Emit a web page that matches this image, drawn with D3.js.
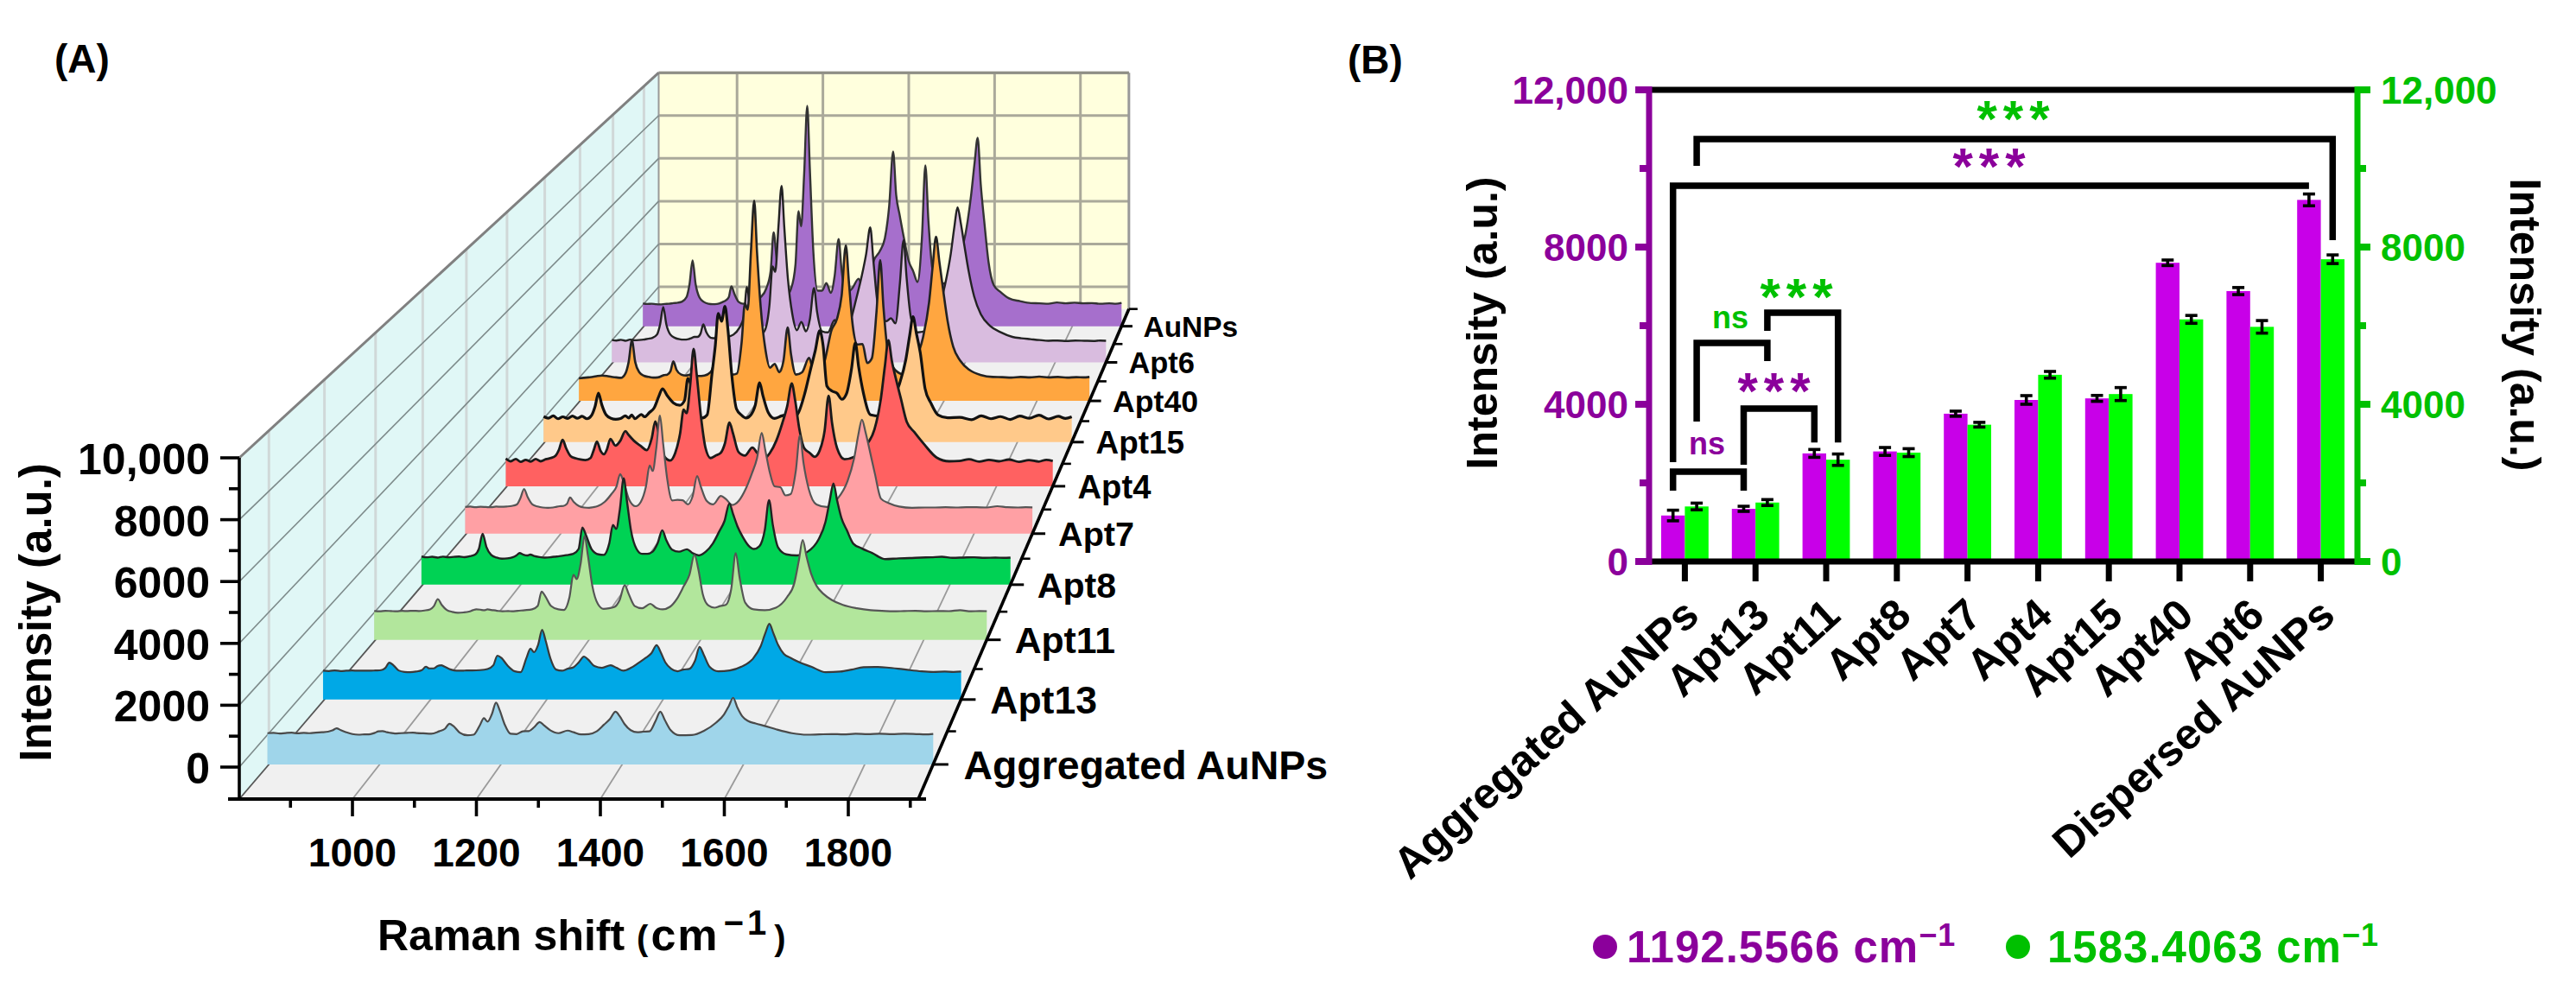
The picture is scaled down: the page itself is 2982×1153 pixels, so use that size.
<!DOCTYPE html>
<html>
<head>
<meta charset="utf-8">
<script src="https://cdn.jsdelivr.net/npm/d3@7"></script>
<style>
  html, body { margin: 0; padding: 0; background: #fff; }
  svg { display: block; }
  text { font-family: "Liberation Sans", Arial, sans-serif; font-weight: bold; }
</style>
</head>
<body>
<div id="chart"></div>
<script>
// ---------- data: panel A, Raman spectra ----------
const ramanShift = [
  815, 825, 835, 845, 855, 865, 875, 885, 895, 905, 915, 922, 929, 936, 945, 955, 965, 975,
  985, 992, 998, 1005, 1012, 1018, 1025, 1035, 1045, 1055, 1062, 1072, 1085, 1098,
  1108, 1115, 1122, 1132, 1145, 1155,
  1165, 1172, 1178, 1185, 1192, 1198, 1206, 1216, 1226,
  1236, 1246, 1255, 1264, 1271, 1282, 1295, 1310, 1320, 1332,
  1345, 1358, 1370, 1380, 1389, 1396, 1404, 1414, 1425, 1435, 1445,
  1455, 1463, 1470, 1480, 1495,
  1515, 1535, 1555, 1568, 1576, 1583, 1590, 1598, 1608, 1620, 1635, 1655, 1680, 1705,
  1725, 1745, 1765, 1785, 1805, 1825, 1845, 1865, 1885, 1900, 1913
];
const spectrumAggregated = [
  0, 10, -10, 5, 15, -5, 10, 0, 20, 30, 50, 90, 160, 100, 30, -30, -50, -40,
  -30, 10, 60, 70, 30, 10, -10, 0, 10, 20, 5, -5, -20, 60,
  150, 310, 230, 20, -70, -50,
  250, 495, 380, 620, 1010, 760, 300, -20, -30,
  60, 70, 200, 370, 260, 90, 0, 85, 30, -40,
  -30, 60, 280, 470, 710, 560, 300, 100, 30, 50, 60,
  400, 710, 450, 100, -70,
  -60, 80, 350, 620, 900, 1170, 850, 560, 400, 320, 240, 120, 0, -50,
  -40, -30, -40, -20, -30, -20, -35, -20, -30, -40, -25
];
const spectrumApt13 = [
  -40, -50, -30, -50, -40, -30, -40, -40, -40, -30, -20, 50, 240, 150, -30, -80, -90, -70,
  -20, 100, 40, 40, 120, 150, 90, 0, -40, -40, -30, -30, -20, 20,
  150, 480, 400, 150, -60, -90,
  400, 720, 600, 850, 1370, 1000, 400, 0, -40,
  30, 80, 250, 450, 350, 120, 60, 150, 60, -40,
  60, 230, 400, 560, 840, 600, 250, 30, -60, 0, 20,
  300, 780, 520, 100, -60,
  -30, 100, 380, 800, 1250, 1580, 1250, 850, 540, 400, 250, 100, -90, -70,
  0, 80, 90, 70, 30, -20, -60, -80, -70, -80, -70
];
const spectrumApt11 = [
  0, -10, 10, 0, -10, 5, 0, 10, 0, 20, 60, 180, 430, 220, 40, -30, -60, -50,
  -20, 30, 60, 50, 30, 60, 40, 10, -10, 0, -10, 10, 30, 60,
  180, 700, 520, 180, 60, 40,
  500, 1300, 1150, 1700, 2700, 2000, 900, 250, 80,
  100, 150, 400, 930, 620, 180, 100, 260, 120, 60,
  150, 450, 900, 1300, 2020, 1500, 600, 200, 120, 180, 220,
  800, 2080, 1200, 300, 60,
  30, 120, 500, 1000, 1800, 2550, 1950, 1350, 900, 620, 400, 220, 100, 30,
  10, -10, 0, 10, -10, 0, -5, 30, -10, 0, -5
];
const spectrumApt8 = [
  20, -10, 10, -20, 15, -10, 5, 20, -5, 30, 90, 300, 870, 380, 80, -20, -60, -50,
  -10, 60, 150, 90, 60, 90, 40, 0, -20, -10, 10, 30, 70, 120,
  300, 1100, 800, 300, 100, 80,
  500, 1200, 1050, 1800, 2945, 2100, 950, 300, 120,
  120, 200, 500, 1000, 650, 280, 200, 290, 150, 60,
  200, 500, 950, 1350, 2000, 1600, 1150, 750, 420, 300, 400,
  1000, 2130, 1200, 350, 100,
  60, 200, 650, 1300, 2100, 2750, 2100, 1450, 1000, 500, 330, 150, -80, -50,
  -40, -20, -10, 10, -30, -20, -10, -30, -20, -30, -20
];
const spectrumApt7 = [
  0, 15, -10, 10, 0, -10, 15, 10, 20, 40, 100, 350, 700, 380, 100, 20, -20, -30,
  -20, 10, 30, 40, 120, 370, 200, 40, -20, -30, -10, 40, 200, 500,
  800, 1275, 950, 300, 30, 200,
  800, 1610, 1400, 2300, 3550, 2500, 1100, 250, 280,
  260, 100, 400, 1200, 800, 250, 100, 430, 300, 80,
  250, 700, 1300, 1900, 2880, 2200, 1400, 800, 770, 450, 500,
  1400, 2780, 1700, 700, 100,
  0, 300, 1000, 1900, 2800, 3390, 2900, 2200, 1300, 320, 150, 20, -30, -20,
  -20, -10, -20, -5, -10, -20, 30, -10, -20, -10, -15
];
const spectrumApt4 = [
  80, -30, 60, -50, 30, -40, 60, -30, 50, 100, 200, 450, 836, 500, 180, 90, 40, 20,
  100, 450, 766, 400, 250, 450, 870, 600, 800, 1180, 1020, 800, 600, 420,
  900, 1570, 1100, 200, 0, 300,
  1100, 2050, 1900, 3000, 4490, 3500, 1900, 500, 100,
  200, 300, 700, 1530, 1100, 350, 200, 520, 300, 60,
  300, 800, 1500, 2200, 3100, 2400, 1300, 500, 310, 150, 400,
  1200, 2610, 1500, 500, 50,
  150, 550, 1250, 2500, 3800, 4840, 4000, 3300, 2500, 1550, 1150, 650, 120, -30,
  -20, 50, -40, 30, -30, 40, -50, 20, -40, 30, -20
];
const spectrumApt15 = [
  30, -40, 60, -60, 20, -50, 50, -40, 40, -60, 90, 450, 1010, 520, 100, -40, -80, -50,
  60, -30, 100, -60, 40, 120, 20, 200, 400, 900, 1190, 900, 600, 500,
  700, 1620, 1300, 400, -30, 100,
  1800, 3000, 4330, 4000, 4620, 3700, 1800, 350, 100,
  -30, 100, 500, 1440, 900, 200, -50, 60, 100, -50,
  200, 1000, 2000, 2800, 3610, 3000, 1300, 1100, 1000, 750, 1000,
  2000, 3100, 2100, 1000, 100,
  50, 500, 1400, 2400, 3400, 4190, 3500, 2700, 1200, 600, 100, -20, 0, -100,
  60, -60, 30, -90, 50, -40, 90, -70, 40, -50, 20
];
const spectrumApt40 = [
  -60, -40, -20, 0, 40, 60, 40, 0, -20, -40, 150, 650, 1570, 650, 200, 50, 0, -30,
  -20, 30, 80, 100, 250, 670, 300, 100, 60, 100, 60, 40, 60, 200,
  900, 2690, 1300, 400, 100, 150,
  1500, 3170, 2900, 5400, 7600, 5400, 3000, 1200, 400,
  560, 200, 700, 2130, 1000, 100, 200, 820, 200, 50,
  800, 2000, 2500, 3500, 5670, 4000, 2200, 1400, 1420, 600, 800,
  2800, 5040, 3000, 1000, 300,
  100, 600, 1700, 3200, 4800, 6040, 5000, 3800, 2400, 1300, 700, 300, 80, 0,
  -10, -30, 0, -20, 10, -20, 0, -30, -10, -20, 0
];
const spectrumApt6 = [
  -40, -60, -30, -70, -20, -50, -40, -20, 20, 60, 200, 650, 1430, 650, 200, 60, 0, -20,
  0, 50, 100, 100, 250, 656, 300, 60, 40, 100, 80, 100, 200, 500,
  1000, 2320, 1400, 500, 200, 400,
  1500, 3240, 3000, 5000, 6830, 5000, 2700, 1100, 400,
  770, 350, 900, 2280, 1200, 350, 300, 850, 300, 200,
  800, 1800, 2800, 3800, 4980, 3500, 1800, 1000, 800, 930, 700,
  2500, 4400, 2700, 900, 300,
  400, 1000, 2400, 3800, 5000, 5870, 5200, 4200, 3000, 1900, 1100, 600, 300, 100,
  40, 0, -40, -70, -60, -80, -60, -70, -80, -60, -70
];
const spectrumAuNPs = [
  10, -10, 0, -20, -30, -10, 0, 30, 50, 100, 300, 900, 1988, 900, 280, 80, 0, -20,
  -10, 30, 80, 150, 300, 800, 450, 80, 0, 40, 100, 150, 300, 700,
  1500, 3280, 2000, 1000, 400, 700,
  1800, 4254, 3560, 6000, 9105, 6200, 2400, 600, 600,
  950, 500, 1300, 2980, 1500, 500, 700, 1150, 700, 1000,
  2000, 2400, 3000, 4500, 7000, 5000, 4080, 3000, 1950, 1500, 1000,
  3000, 6360, 3800, 1500, 900,
  1000, 1800, 3200, 5000, 6500, 7634, 5500, 3800, 1900, 850, 550, 250, 120, 30,
  20, 0, 60, 20, 50, 20, 30, 0, 20, 0, 40
];
// front to back
const spectraNames = ["Aggregated AuNPs", "Apt13", "Apt11", "Apt8", "Apt7", "Apt4", "Apt15", "Apt40", "Apt6", "AuNPs"];
const spectra = [spectrumAggregated, spectrumApt13, spectrumApt11, spectrumApt8, spectrumApt7,
  spectrumApt4, spectrumApt15, spectrumApt40, spectrumApt6, spectrumAuNPs];
const shiftTicks = [1000, 1200, 1400, 1600, 1800];
const shiftMinorTicks = [900, 1100, 1300, 1500, 1700, 1900];
const intensityTicksA = [0, 2000, 4000, 6000, 8000, 10000];
const intensityMinorA = [1000, 3000, 5000, 7000, 9000];

// ---------- data: panel B, bars with error bars ----------
const groups = ["Aggregated AuNPs", "Apt13", "Apt11", "Apt8", "Apt7", "Apt4", "Apt15", "Apt40", "Apt6", "Dispersed AuNPs"];
const band1192 = [1170, 1340, 2750, 2800, 3760, 4110, 4150, 7600, 6880, 9200];
const band1583 = [1400, 1500, 2590, 2770, 3480, 4750, 4260, 6160, 5970, 7690];
const err1192 = [135, 65, 100, 100, 65, 110, 75, 70, 90, 150];
const err1583 = [85, 75, 145, 100, 60, 85, 165, 100, 160, 110];
const intensityTicksB = [0, 4000, 8000, 12000];
const intensityMinorB = [2000, 6000, 10000];
// from/to: [group index, 0 = 1192 bar, 1 = 1583 bar], levels in intensity units
const brackets = [
  { from: [0, 0], to: [1, 0], level: 2285, fromEnd: 1800, toEnd: 1800 },
  { from: [1, 0], to: [2, 0], level: 3890, fromEnd: 2460, toEnd: 3030 },
  { from: [0, 1], to: [1, 1], level: 5560, fromEnd: 3560, toEnd: 5100 },
  { from: [1, 1], to: [2, 1], level: 6330, fromEnd: 5870, toEnd: 3030 },
  { from: [0, 0], to: [9, 0], level: 9560, fromEnd: 2530, toEnd: 9560 },
  { from: [0, 1], to: [9, 1], level: 10750, fromEnd: 10065, toEnd: 8175 }
];

// ---------- styles ----------
const spectraFill = ["#9fd5ea", "#00a8e6", "#b2e69c", "#00d254", "#ffa0a4", "#ff6161", "#ffc98a", "#ffa640", "#d9bcdf", "#a66fcc"];
const spectraStroke = ["#4a4a4a", "#3a3a3a", "#555", "#222", "#555", "#1a1a1a", "#111", "#222", "#222", "#333"];
const spectraWidth = [2.2, 2.2, 2.2, 2.4, 2.2, 2.8, 3.2, 2.6, 2.4, 2.4];
const purpleAxis = "#8b009b", greenAxis = "#00c000", purpleBar = "#c800e8", greenBar = "#00ff00", black = "#000";

const svg = d3.select("#chart").append("svg").attr("width", 2982).attr("height", 1153);
svg.append("rect").attr("width", 2982).attr("height", 1153).attr("fill", "#fff");

// ---------- panel A ----------
const panelA = svg.append("g");
const xFront = d3.scaleLinear().domain([1000, 1800]).range([408, 982]);
const yFront = d3.scaleLinear().domain([0, 10000]).range([888, 530]);
const shiftMin = xFront.invert(277), shiftMax = xFront.invert(1063), floorValue = yFront.invert(925);
const topValue = 10000;
const vanish = { x: 1856, y: -920 };
const depthOf = i => i + 0.5;
const perspective = z => 1 / (1 + 0.0444 * z);
const px = (cm, z) => vanish.x + (xFront(cm) - vanish.x) * perspective(z);
const py = (v, z) => vanish.y + (yFront(v) - vanish.y) * perspective(z);
const poly = pts => "M" + pts.map(p => p.join(",")).join("L") + "Z";
const seg = (g, a, b, color, width) => g.append("line")
  .attr("x1", a[0]).attr("y1", a[1]).attr("x2", b[0]).attr("y2", b[1])
  .attr("stroke", color).attr("stroke-width", width);

// walls and floor
panelA.append("path").attr("fill", "#ffffdd").attr("d", poly([
  [px(shiftMin, 10), py(topValue, 10)], [px(shiftMax, 10), py(topValue, 10)],
  [px(shiftMax, 10), py(floorValue, 10)], [px(shiftMin, 10), py(floorValue, 10)]]));
panelA.append("path").attr("fill", "#e0f7f6").attr("d", poly([
  [px(shiftMin, 0), py(floorValue, 0)], [px(shiftMin, 0), py(topValue, 0)],
  [px(shiftMin, 10), py(topValue, 10)], [px(shiftMin, 10), py(floorValue, 10)]]));
panelA.append("path").attr("fill", "#f0f0f0").attr("d", poly([
  [px(shiftMin, 0), py(floorValue, 0)], [px(shiftMax, 0), py(floorValue, 0)],
  [px(shiftMax, 10), py(floorValue, 10)], [px(shiftMin, 10), py(floorValue, 10)]]));

// grid on the back wall
shiftTicks.forEach(t => seg(panelA, [px(t, 10), py(topValue, 10)], [px(t, 10), py(floorValue, 10)], "#aaa99a", 3));
intensityTicksA.forEach(t => seg(panelA, [px(shiftMin, 10), py(t, 10)], [px(shiftMax, 10), py(t, 10)], "#aaa99a", 3));
seg(panelA, [px(shiftMax, 10), py(topValue, 10)], [px(shiftMax, 10), py(floorValue, 10)], "#999", 3);
seg(panelA, [px(shiftMin, 10), py(topValue, 10)], [px(shiftMax, 10), py(topValue, 10)], "#8e8e85", 3);
seg(panelA, [px(shiftMin, 10), py(topValue, 10)], [px(shiftMin, 10), py(floorValue, 10)], "#999", 2);

// grid on the left wall
d3.range(10).forEach(i => seg(panelA,
  [px(shiftMin, depthOf(i)), py(topValue, depthOf(i))],
  [px(shiftMin, depthOf(i)), py(floorValue, depthOf(i))], "#d0d8d8", 3));
intensityTicksA.slice(0, -1).forEach(t => seg(panelA, [px(shiftMin, 0), py(t, 0)], [px(shiftMin, 10), py(t, 10)], "#7d8a8a", 1.6));
seg(panelA, [px(shiftMin, 0), py(topValue, 0)], [px(shiftMin, 10), py(topValue, 10)], "#808080", 3);
seg(panelA, [px(shiftMin, 0), py(floorValue, 0)], [px(shiftMin, 10), py(floorValue, 10)], "#555", 1.8);

// grid on the floor
shiftTicks.forEach(t => seg(panelA, [px(t, 0), py(floorValue, 0)], [px(t, 10), py(floorValue, 10)], "#9a9a9a", 1.8));

// spectra, back row first
d3.range(9, -1, -1).forEach(i => {
  const z = depthOf(i);
  const points = ramanShift.map((cm, k) => [cm, spectra[i][k]]);
  const area = d3.area().curve(d3.curveMonotoneX)
    .x(d => px(d[0], z)).y0(py(floorValue, z)).y1(d => py(d[1], z));
  const line = d3.line().curve(d3.curveMonotoneX)
    .x(d => px(d[0], z)).y(d => py(d[1], z));
  panelA.append("path").datum(points).attr("d", area).attr("fill", spectraFill[i]);
  panelA.append("path").datum(points).attr("d", line).attr("fill", "none")
    .attr("stroke", spectraStroke[i]).attr("stroke-width", spectraWidth[i]).attr("stroke-linejoin", "round");
});

// axes of panel A
seg(panelA, [px(shiftMin, 0), py(floorValue, 0)], [px(shiftMin, 0), py(topValue, 0)], black, 3.6);
seg(panelA, [264, py(floorValue, 0)], [1072, py(floorValue, 0)], black, 4);
seg(panelA, [px(shiftMax, 0), py(floorValue, 0)], [px(shiftMax, 10), py(floorValue, 10)], black, 3.6);
intensityTicksA.forEach(t => {
  seg(panelA, [255, py(t, 0)], [277, py(t, 0)], black, 3.6);
  panelA.append("text").attr("x", 243).attr("y", py(t, 0) + 19).attr("text-anchor", "end")
    .attr("font-size", 50).attr("fill", black).text(t === 10000 ? "10,000" : d3.format("d")(t));
});
intensityMinorA.forEach(t => seg(panelA, [265, py(t, 0)], [277, py(t, 0)], black, 3.6));
shiftTicks.forEach(t => {
  seg(panelA, [xFront(t), py(floorValue, 0)], [xFront(t), 945], black, 3.6);
  panelA.append("text").attr("x", xFront(t)).attr("y", 1003).attr("text-anchor", "middle")
    .attr("font-size", 46).attr("fill", black).text(t);
});
shiftMinorTicks.forEach(t => seg(panelA, [xFront(t), py(floorValue, 0)], [xFront(t), 935], black, 3.6));
d3.range(10).forEach(i => {
  const z = depthOf(i), s = perspective(z), x0 = px(shiftMax, z), y0 = py(floorValue, z);
  seg(panelA, [x0, y0], [x0 + 18 * s, y0], black, 3);
  panelA.append("text").attr("x", x0 + 36 * s).attr("y", y0 + 17 * s).attr("font-size", 47.5 * s)
    .attr("fill", black).text(spectraNames[i]);
});
d3.range(1, 11).forEach(z => {
  const x0 = px(shiftMax, z), y0 = py(floorValue, z);
  seg(panelA, [x0, y0], [x0 + 10, y0], black, 2.6);
});

panelA.append("text").attr("transform", "translate(59,709) rotate(-90)").attr("text-anchor", "middle")
  .attr("font-size", 51).attr("fill", black).text("Intensity (a.u.)");
const ramanTitle = panelA.append("text").attr("x", 437).attr("y", 1100).attr("font-size", 50).attr("fill", black);
ramanTitle.append("tspan").text("Raman shift ");
ramanTitle.append("tspan").attr("font-size", 40).text("(");
ramanTitle.append("tspan").attr("font-size", 52).attr("dx", 3).attr("letter-spacing", 2).text("cm");
ramanTitle.append("tspan").attr("font-size", 40).attr("dy", -18).attr("dx", 5).attr("letter-spacing", 4).text("\u22121");
ramanTitle.append("tspan").attr("font-size", 40).attr("dy", 18).attr("dx", 5).text(")");
panelA.append("text").attr("x", 63).attr("y", 84).attr("font-size", 46).attr("fill", black).text("(A)");

// ---------- panel B ----------
const panelB = svg.append("g");
const yLeft = d3.scaleLinear().domain([0, 12000]).range([650, 104]);
const yRight = d3.scaleLinear().domain([0, 12000]).range([650, 104]);
const xGroup = d3.scaleBand().domain(groups).range([1923, 2714]).paddingInner(0.33).paddingOuter(0);
const barW = xGroup.bandwidth() / 2;
const barX = (g, k) => xGroup(groups[g]) + k * barW;
const barC = (g, k) => barX(g, k) + barW / 2;

[[band1192, err1192, purpleBar], [band1583, err1583, greenBar]].forEach(([vals, errs, color], k) => {
  panelB.append("g").selectAll("rect").data(vals).join("rect")
    .attr("x", (d, g) => barX(g, k)).attr("width", barW)
    .attr("y", d => yLeft(d)).attr("height", d => yLeft(0) - yLeft(d))
    .attr("fill", color);
  const err = panelB.append("g").attr("stroke", black).attr("stroke-width", 3.6);
  vals.forEach((v, g) => {
    const c = barC(g, k);
    err.append("line").attr("x1", c).attr("x2", c).attr("y1", yLeft(v - errs[g])).attr("y2", yLeft(v + errs[g]));
    [v - errs[g], v + errs[g]].forEach(e => err.append("line")
      .attr("x1", c - 7).attr("x2", c + 7).attr("y1", yLeft(e)).attr("y2", yLeft(e)));
  });
});

// significance brackets
brackets.forEach(b => {
  const x0 = barC(b.from[0], b.from[1]), x1 = barC(b.to[0], b.to[1]);
  panelB.append("path").attr("fill", "none").attr("stroke", black).attr("stroke-width", 7.5)
    .attr("stroke-linejoin", "miter")
    .attr("d", `M${x0},${yLeft(b.fromEnd)}V${yLeft(b.level)}H${x1}V${yLeft(b.toEnd)}`);
});

// significance marks, placed beside their brackets
const nsMarks = [[1976, 3000, purpleAxis], [2003, 6200, greenAxis]];
const starMarks = [[2057, 4620, purpleAxis], [2083, 7010, greenAxis], [2306, 10330, purpleAxis], [2334, 11530, greenAxis]];
nsMarks.forEach(([x, v, color]) => panelB.append("text").attr("x", x).attr("y", yLeft(v) + 12)
  .attr("text-anchor", "middle").attr("font-size", 36).attr("fill", color).text("ns"));
starMarks.forEach(([x, v, color]) => panelB.append("text").attr("x", x).attr("y", yLeft(v) + 33)
  .attr("text-anchor", "middle").attr("font-size", 60).attr("letter-spacing", 7).attr("fill", color).text("***"));

// axes of panel B
const fmtB = d => (d >= 10000 ? d3.format(",")(d) : String(d));
const leftX = 1909, rightX = 2729;
seg(panelB, [leftX, yLeft(0)], [rightX, yLeft(0)], black, 7);
seg(panelB, [leftX, yLeft(12000)], [rightX, yLeft(12000)], black, 7);
seg(panelB, [leftX, yLeft(12000) - 4], [leftX, yLeft(0) + 4], purpleAxis, 7);
seg(panelB, [rightX, yRight(12000) - 4], [rightX, yRight(0) + 4], greenAxis, 7);
intensityTicksB.forEach(t => {
  seg(panelB, [1893, yLeft(t)], [leftX, yLeft(t)], purpleAxis, 8);
  seg(panelB, [rightX, yRight(t)], [2744, yRight(t)], greenAxis, 8);
  panelB.append("text").attr("x", 1885).attr("y", yLeft(t) + 16).attr("text-anchor", "end")
    .attr("font-size", 44).attr("fill", purpleAxis).text(fmtB(t));
  panelB.append("text").attr("x", 2756).attr("y", yRight(t) + 16)
    .attr("font-size", 44).attr("fill", greenAxis).text(fmtB(t));
});
intensityMinorB.forEach(t => {
  seg(panelB, [1898, yLeft(t)], [leftX, yLeft(t)], purpleAxis, 8);
  seg(panelB, [rightX, yRight(t)], [2739, yRight(t)], greenAxis, 8);
});
groups.forEach(name => {
  const c = xGroup(name) + xGroup.bandwidth() / 2;
  seg(panelB, [c, yLeft(0)], [c, 673], black, 7);
  panelB.append("text").attr("transform", `translate(${c + 19},${716}) rotate(-42)`)
    .attr("text-anchor", "end").attr("font-size", 50).attr("fill", black).text(name);
});
panelB.append("text").attr("transform", "translate(1733,374) rotate(-90)").attr("text-anchor", "middle")
  .attr("font-size", 50).attr("fill", black).text("Intensity (a.u.)");
panelB.append("text").attr("transform", "translate(2906,376) rotate(90)").attr("text-anchor", "middle")
  .attr("font-size", 50).attr("fill", black).text("Intensity (a.u.)");
panelB.append("text").attr("x", 1560).attr("y", 85).attr("font-size", 46).attr("fill", black).text("(B)");

// legend
const legendLabels = ["1192.5566 cm", "1583.4063 cm"];
[[1858, 1883, purpleAxis], [2336, 2370, greenAxis]].forEach(([dot, x, color], k) => {
  panelB.append("circle").attr("cx", dot).attr("cy", 1096).attr("r", 14).attr("fill", color);
  const t = panelB.append("text").attr("x", x).attr("y", 1114).attr("font-size", 51).attr("letter-spacing", 1).attr("fill", color);
  t.append("tspan").text(legendLabels[k]);
  t.append("tspan").attr("font-size", 36).attr("dy", -19).text("\u22121");
});
</script>
</body>
</html>
